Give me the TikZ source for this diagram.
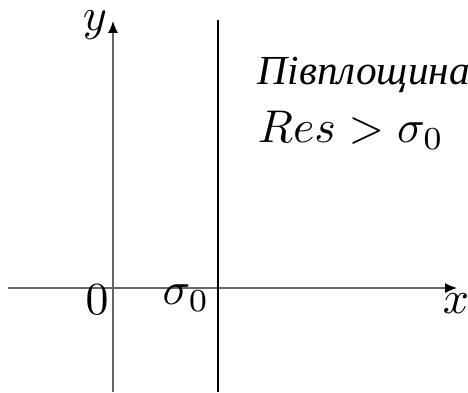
\documentclass[tikz,border=0pt]{standalone}
\usepackage{fontspec}
\newfontfamily\cyrfont[Scale=0.9]{Liberation Serif}
\usetikzlibrary{arrows.meta}

\tikzset{
  axis/.style={draw=black!60, line width=0.35pt, -{Latex[length=2.6pt,width=2.2pt,black]}},
  bound/.style={draw=black, line width=0.6pt},
  lbl/.style={inner sep=0pt}
}

\begin{document}
\begin{tikzpicture}[x=0.218pt, y=0.218pt]
\useasboundingbox (0,0) rectangle (468,392);

% axes
\coordinate (xs) at (8,104);
\coordinate (xe) at (457,104);
\coordinate (ys) at (113,0);
\coordinate (ye) at (113,371);
\draw[axis] (xs) -- (xe);
\draw[axis] (ys) -- (ye);

% line Re s = sigma_0
\coordinate (bs) at (218,0);
\coordinate (be) at (218,372);
\draw[bound] (bs) -- (be);

% labels
\node[lbl] (ylab) at (95,367) {$y$};
\node[lbl] (xlab) at (456,88) {$x$};
\node[lbl] (zero) at (97,92) {$0$};
\node[lbl] (sig) at (186,94) {$\sigma_0$};
\node[lbl, anchor=west] (half) at (257,317) {\cyrfont\itshape Півплощина};
\node[lbl, anchor=west] (cond) at (257,262) {$Res>\sigma_0$};
\end{tikzpicture}
\end{document}
